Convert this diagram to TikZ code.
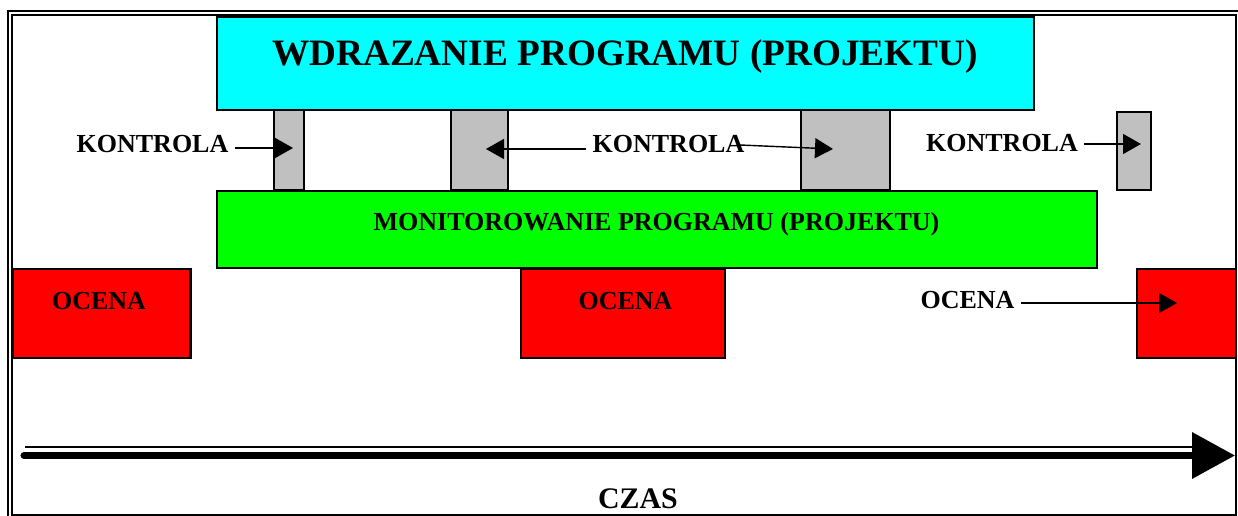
\documentclass[tikz,border=0pt]{standalone}
\usepackage{fontspec}
\setmainfont{Liberation Serif}
\usetikzlibrary{arrows.meta}
\definecolor{wdrcyan}{RGB}{0,255,255}
\definecolor{mongreen}{RGB}{0,255,0}
\definecolor{ocred}{RGB}{255,0,0}
\definecolor{kongray}{RGB}{192,192,192}

\begin{document}
\begin{tikzpicture}[x=0.02cm,y=-0.02cm,
  blok/.style={draw,line width=1.5pt,inner sep=0pt,outer sep=0pt},
  napis/.style={font=\fontsize{14.8pt}{17pt}\selectfont\bfseries,inner sep=3.5pt,anchor=base},
  strz/.style={line width=0.8pt,-{Triangle[length=0.36cm,width=0.4cm]}}]
\useasboundingbox (0,0) rectangle (1238,516);
% frame
\draw[line width=1.1pt] (8,516) -- (8,11) -- (1238,11);
\draw[line width=1.1pt] (12,15) rectangle (1236,515);
% kontrola bars
\node[blok,fill=kongray,minimum width=0.6cm,minimum height=1.6cm] (bar1) at (289,150) {};
\node[blok,fill=kongray,minimum width=1.14cm,minimum height=1.6cm] (bar2) at (479.5,150) {};
\node[blok,fill=kongray,minimum width=1.78cm,minimum height=1.6cm] (bar3) at (845.5,150) {};
\node[blok,fill=kongray,minimum width=0.68cm,minimum height=1.56cm] (bar4) at (1134,151) {};
% main boxes
\node[blok,fill=wdrcyan,minimum width=16.34cm,minimum height=1.86cm] (wdr) at (625.5,63.5) {};
\node[blok,fill=mongreen,minimum width=17.6cm,minimum height=1.54cm] (mon) at (657,229.5) {};
\node[blok,fill=ocred,minimum width=3.56cm,minimum height=1.78cm] (oc1) at (101.5,313.5) {};
\node[blok,fill=ocred,minimum width=4.08cm,minimum height=1.78cm] (oc2) at (623,313.5) {};
\node[blok,fill=ocred,minimum width=1.98cm,minimum height=1.78cm] (oc3) at (1186.5,313.5) {};
% texts
\node[font=\fontsize{21.2pt}{24pt}\selectfont\bfseries,anchor=base] (wdrtxt) at (625,66) {WDRAZANIE PROGRAMU (PROJEKTU)};
\node[napis] (montxt) at (656.5,231) {MONITOROWANIE PROGRAMU (PROJEKTU)};
\node[napis] (k1) at (152.5,153) {KONTROLA};
\node[napis] (k2) at (668.5,153) {KONTROLA};
\node[napis] (k3) at (1002,152) {KONTROLA};
\node[napis] (oct1) at (99,310) {OCENA};
\node[napis] (oct2) at (625.5,310) {OCENA};
\node[napis] (oct3) at (967.5,309) {OCENA};
% arrows
\coordinate (k1tip) at (293,148);
\coordinate (k2ltip) at (486,149);
\coordinate (k2start) at (740,145);
\coordinate (k2rtip) at (833,149);
\coordinate (k3tip) at (1141,144);
\coordinate (oc3tip) at (1177,303);
\draw[strz] (k1.east |- k1tip) -- (k1tip);
\draw[strz] (k2.west |- k2ltip) -- (k2ltip);
\draw[strz] (k2start) -- (k2rtip);
\draw[strz] (k3.east |- k3tip) -- (k3tip);
\draw[strz] (oct3.east |- oc3tip) -- (oc3tip);
% time
\coordinate (czas0) at (24,455.5);
\coordinate (czas1) at (1235,455.5);
\coordinate (czas2) at (25,447);
\coordinate (czas3) at (1193,447);
\draw[line width=1.1pt] (czas2) -- (czas3);
\draw[line width=4pt,line cap=round,-{Triangle[length=0.86cm,width=0.9cm]}] (czas0) -- (czas1);
\node[font=\fontsize{17pt}{20pt}\selectfont\bfseries,anchor=base] (czas) at (638,509) {CZAS};
\end{tikzpicture}
\end{document}
